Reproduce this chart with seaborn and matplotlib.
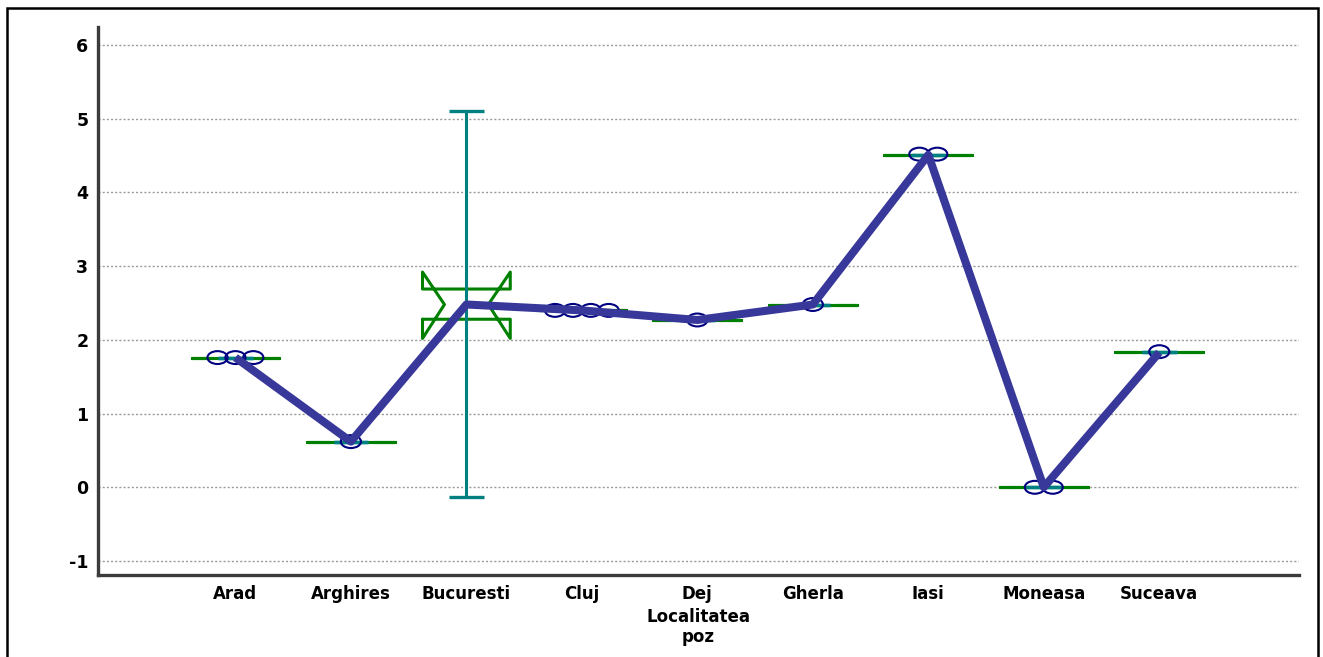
import numpy as np
import matplotlib
matplotlib.use("Agg")
import matplotlib.pyplot as plt
from matplotlib.path import Path
from matplotlib.patches import Rectangle
import seaborn as sns

# ---------------- data ----------------
categories = ["Arad", "Arghires", "Bucuresti", "Cluj", "Dej", "Gherla", "Iasi", "Moneasa", "Suceava"]
means      = [1.76, 0.62, 2.48, 2.40, 2.27, 2.48, 4.51, 0.00, 1.83]
box_q1     = [1.76, 0.62, 2.28, 2.40, 2.27, 2.48, 4.51, 0.00, 1.83]
box_q3     = [1.76, 0.62, 2.69, 2.40, 2.27, 2.48, 4.51, 0.00, 1.83]
notch_lo   = [1.76, 0.62, 2.02, 2.40, 2.27, 2.48, 4.51, 0.00, 1.83]
notch_hi   = [1.76, 0.62, 2.92, 2.40, 2.27, 2.48, 4.51, 0.00, 1.83]
err_lo     = [1.76, 0.62, -0.13, 2.40, 2.27, 2.48, 4.51, 0.00, 1.83]
err_hi     = [1.76, 0.62, 5.10, 2.40, 2.27, 2.48, 4.51, 0.00, 1.83]

obs_city  = ["Arad", "Arad", "Arad", "Arghires", "Cluj", "Cluj", "Cluj", "Cluj",
             "Dej", "Gherla", "Iasi", "Iasi", "Moneasa", "Moneasa", "Suceava"]
obs_value = [1.76, 1.76, 1.76, 0.62, 2.40, 2.40, 2.40, 2.40,
             2.27, 2.48, 4.52, 4.52, 0.00, 0.00, 1.84]

y_ticks = [-1, 0, 1, 2, 3, 4, 5, 6]
x_title = "Localitatea\npoz"

# ---------------- style ----------------
sns.set_style("white")
plt.rcParams["font.family"] = ["DejaVu Sans"]
plt.rcParams["font.weight"] = "bold"

W, H = 1323, 657
fig = plt.figure(figsize=(W / 100, H / 100), dpi=100)
ax = fig.add_axes([98 / W, 1 - 575 / H, (1299 - 98) / W, (575 - 27) / H])

GREEN = "#008000"
TEAL = "#008080"
LINE = "#38389a"
NAVY = "#000080"
AXC = "#3c3c3c"

pos = np.arange(len(categories))
BOX_W = 0.76
CAP_HALF = 0.15
SPREAD = 0.155

# notched boxes
stats = []
for i, c in enumerate(categories):
    stats.append(dict(label=c, med=means[i], q1=box_q1[i], q3=box_q3[i],
                      cilo=notch_lo[i], cihi=notch_hi[i],
                      whislo=box_q1[i], whishi=box_q3[i], fliers=[]))
ax.bxp(stats, positions=pos, widths=BOX_W, shownotches=True, showcaps=False,
       showfliers=False, manage_ticks=False,
       boxprops=dict(color=GREEN, linewidth=2.2),
       whiskerprops=dict(linewidth=0),
       medianprops=dict(linewidth=0),
       zorder=2)

# error bars (range line + caps)
ax.vlines(pos, err_lo, err_hi, colors=TEAL, linewidth=2.2, zorder=3)
ax.hlines(err_lo, pos - CAP_HALF, pos + CAP_HALF, colors=TEAL, linewidth=2.4, zorder=3)
ax.hlines(err_hi, pos - CAP_HALF, pos + CAP_HALF, colors=TEAL, linewidth=2.4, zorder=3)

# observation markers (ellipses), spread symmetrically around each category
idx = {c: i for i, c in enumerate(categories)}
counts = {c: obs_city.count(c) for c in categories}
seen = {c: 0 for c in categories}
obs_x = []
for c in obs_city:
    k = seen[c]
    seen[c] += 1
    obs_x.append(idx[c] + (k - (counts[c] - 1) / 2) * SPREAD)

circ = Path.unit_circle()
ell = Path(circ.vertices * np.array([1.0, 0.64]), circ.codes)
sns.scatterplot(x=obs_x, y=obs_value, ax=ax, s=14.5 ** 2, marker=ell,
                facecolor="none", edgecolor=NAVY, linewidth=1.5, zorder=4)

# mean line
sns.lineplot(x=pos, y=means, ax=ax, color=LINE, linewidth=5.8, zorder=5,
             solid_capstyle="butt")

# ---------------- axes ----------------
ax.set_xlim(-1.19, 9.21)
ax.set_ylim(-1.19, 6.245)
ax.set_xticks(pos)
ax.set_xticklabels(categories, fontsize=12, fontweight="bold")
ax.set_yticks(y_ticks)
ax.set_yticklabels([str(v) for v in y_ticks], fontsize=12.5, fontweight="bold")
ax.set_yticks(np.arange(-0.5, 6.0, 1.0), minor=True)

ax.tick_params(axis="y", which="major", direction="in", length=14.5, width=2.2,
               color=AXC, pad=7, labelcolor="black")
ax.tick_params(axis="y", which="minor", direction="in", length=8.5, width=1.4,
               color=AXC)
ax.tick_params(axis="x", which="major", direction="in", length=8.5, width=2.0,
               color=AXC, pad=7, labelcolor="black")

ax.yaxis.grid(True, which="major", linestyle=(0, (1.5, 1.5)), color="#9a9a9a",
              linewidth=1.0, zorder=0)
ax.xaxis.grid(False)
ax.set_axisbelow(True)

for s in ["top", "right"]:
    ax.spines[s].set_visible(False)
for s in ["left", "bottom"]:
    ax.spines[s].set_color(AXC)
    ax.spines[s].set_linewidth(2.4)

ax.set_xlabel(x_title, fontsize=12, fontweight="bold", labelpad=4,
              linespacing=1.1, color="black")
ax.set_ylabel("")

# figure frame
fig.add_artist(Rectangle((7 / W, -0.05), (1318 - 7) / W, 1.05 - 8 / H,
                         transform=fig.transFigure, fill=False,
                         edgecolor="black", linewidth=1.8))

fig.savefig("out.png", dpi=100)
